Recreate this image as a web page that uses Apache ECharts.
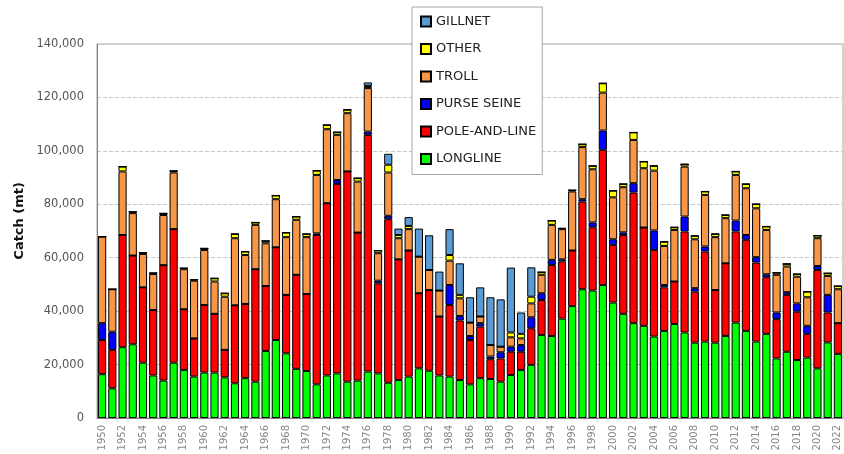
<!DOCTYPE html>
<html>
<head>
<meta charset="utf-8">
<script src="https://cdn.jsdelivr.net/npm/echarts@6/dist/echarts.min.js"></script>
<style>
html,body{margin:0;padding:0;background:#fff;}
#c{width:844px;height:454px;}
</style>
</head>
<body>
<div id="c"></div>
<script>
const years = [];
for (let y = 1950; y <= 2022; y++) years.push(String(y));

const yTicks = [0, 20000, 40000, 60000, 80000, 100000, 120000, 140000];

const longline = [16400,11100,26500,27600,20700,15900,14000,20700,18000,15500,17000,17000,15200,13000,14900,13600,25100,29200,24200,18400,17600,12600,15900,16700,13600,14000,17400,16700,13200,14200,15500,18600,17700,15900,15500,14200,12600,14900,14600,13600,16100,18000,19900,31100,30700,37200,41900,48200,47700,49800,43200,39000,35500,34500,30500,32600,35200,32000,28200,28600,28200,30700,35700,32600,28600,31500,22300,24800,21700,22600,18600,28300,24000];
const poleAndLine = [12800,14400,42000,33200,28200,24500,43200,50000,22700,14300,25300,22000,10300,29200,27800,42100,24300,34700,21900,35200,28800,55900,64500,70900,78700,55400,88600,33700,61200,45200,47200,28100,30200,22100,26800,22300,16600,19300,7400,8700,8700,6800,13700,13100,26600,21400,20800,32800,23700,50600,21600,29500,48900,36800,32400,16300,15900,37800,19100,33700,19700,27200,34100,34100,29600,21200,14700,21300,18100,8900,36800,11200,11500];
const purseSeine = [6300,6800,0,0,0,0,0,0,0,0,0,0,0,0,0,0,0,0,0,0,0,600,0,1500,0,0,1200,1000,1300,0,0,0,0,0,7500,1700,1500,1300,1000,2300,1900,2500,4100,2500,1900,800,0,900,1800,7200,2100,1000,3500,0,7300,900,0,5600,1300,1900,0,0,4100,1800,2000,1100,2500,1000,3100,3000,1500,6600,0];
const troll = [32400,15900,23800,15900,12500,13500,18800,21200,15000,21600,20600,12100,19900,25100,18300,16600,16000,18000,21600,20600,21300,21900,27700,16900,21800,19100,16300,10300,16200,7900,8000,13700,7500,9700,9100,6600,5000,2500,4300,2100,3500,2500,5200,6900,13100,11300,22100,19500,19900,14200,15700,16900,16200,22200,22400,14600,19300,18700,18300,19300,19800,16900,17100,17500,18300,16600,14100,9600,10000,10700,10400,7100,12700];
const other = [0,0,1800,500,500,400,600,600,400,400,600,1200,1300,1600,1300,900,900,1400,1700,1200,1200,1600,1600,1000,1300,1300,800,1000,2900,1200,1200,0,0,0,2100,1300,0,0,0,0,1800,1700,2500,1000,1600,300,500,1100,1300,3500,2500,1200,2800,2500,1800,1600,1000,900,1300,1300,1200,1200,1300,1600,1600,1300,800,1000,1000,2100,1000,1000,1200];
const gillnet = [0,0,0,0,0,0,0,0,0,0,0,0,0,0,0,0,0,0,0,0,0,0,0,0,0,0,1300,0,4100,2400,3300,10500,13000,7100,9700,11800,9500,10900,17900,17700,24300,8000,11000,0,0,0,0,0,0,0,0,0,0,0,0,0,0,0,0,0,0,0,0,0,0,0,0,0,0,0,0,0,0];

const seriesDefs = [
  ['LONGLINE', longline, '#00ff00'],
  ['POLE-AND-LINE', poleAndLine, '#ff0000'],
  ['PURSE SEINE', purseSeine, '#0000ff'],
  ['TROLL', troll, '#f79646'],
  ['OTHER', other, '#ffff00'],
  ['GILLNET', gillnet, '#5b9bd5']
];

const chart = echarts.init(document.getElementById('c'), null, {renderer: 'canvas'});
chart.setOption({
  animation: false,
  backgroundColor: '#ffffff',
  grid: {left: 97, right: 1, top: 44, bottom: 36, show: true, borderColor: '#a6a6a6', borderWidth: 1},
  legend: {
    orient: 'vertical', left: 412, top: 7,
    data: ['GILLNET', 'OTHER', 'TROLL', 'PURSE SEINE', 'POLE-AND-LINE', 'LONGLINE'],
    backgroundColor: '#ffffff', borderColor: '#a6a6a6', borderWidth: 1,
    padding: [8, 6, 9, 8],
    itemWidth: 10, itemHeight: 10, itemGap: 14.5,
    icon: 'rect',
    textStyle: {fontFamily: 'DejaVu Sans', fontSize: 13, color: '#222'},
    z: 10
  },
  graphic: [{
    type: 'text', left: 13, top: 182, rotation: Math.PI / 2,
    style: {text: 'Catch (mt)', font: 'bold 13px "DejaVu Sans"', fill: '#111'}
  }],
  xAxis: {
    type: 'category', data: years,
    axisLine: {lineStyle: {color: '#808080'}},
    axisTick: {show: false},
    axisLabel: {interval: 1, rotate: 90, fontFamily: 'DejaVu Sans', fontSize: 10, color: '#888', margin: 7}
  },
  yAxis: {
    type: 'value', min: yTicks[0], max: yTicks[yTicks.length - 1], interval: 20000,
    axisLine: {show: true, lineStyle: {color: '#808080'}},
    axisTick: {show: false},
    axisLabel: {fontFamily: 'DejaVu Sans', fontSize: 11.5, color: '#555', margin: 13,
      formatter: v => v.toLocaleString('en-US')},
    splitLine: {lineStyle: {color: '#c8c8c8', type: 'dashed'}}
  },
  series: seriesDefs.map(([name, data, color]) => ({
    name, type: 'bar', stack: 'catch', data,
    barCategoryGap: '20%',
    itemStyle: {color, borderColor: '#000', borderWidth: 1}
  }))
});
</script>
</body>
</html>
